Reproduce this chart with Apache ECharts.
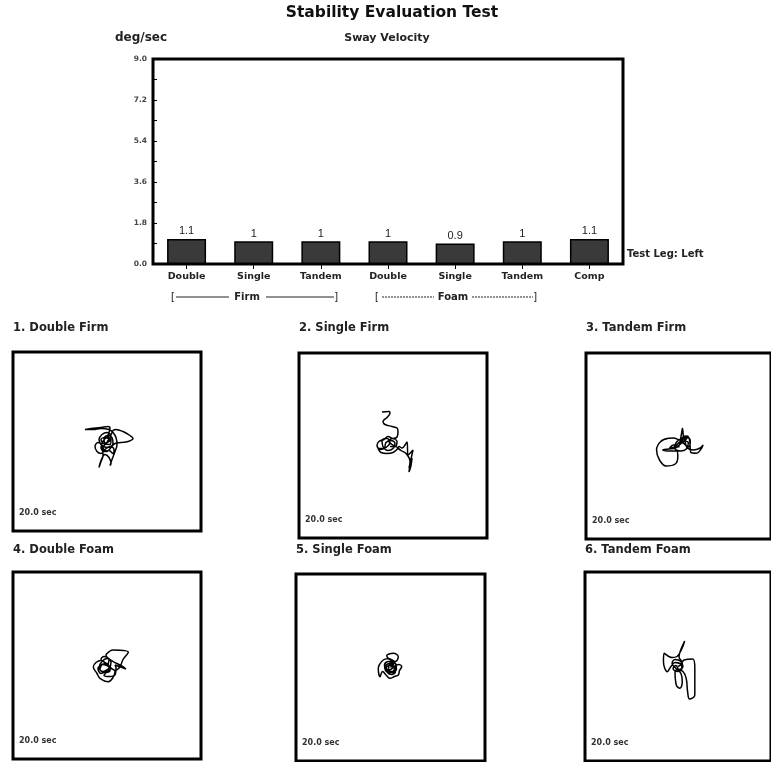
<!DOCTYPE html>
<html><head><meta charset="utf-8">
<script src="https://cdn.jsdelivr.net/npm/echarts@6/dist/echarts.min.js"></script>
<style>html,body{margin:0;padding:0;background:#fff}#chart{width:771px;height:762px}</style>
</head><body><div id="chart"></div><script>
// Sway velocity per stance (deg/sec)
const categories = ['Double', 'Single', 'Tandem', 'Double', 'Single', 'Tandem', 'Comp'];
const swayVelocity = [1.1, 1, 1, 1, 0.9, 1, 1.1];
const yTicks = [0, 1.8, 3.6, 5.4, 7.2, 9.0];

const panelTitles = ['1. Double Firm', '2. Single Firm', '3. Tandem Firm',
                     '4. Double Foam', '5. Single Foam', '6. Tandem Foam'];
const trialDuration = '20.0 sec';

// Centre-of-pressure traces, [medio-lateral, antero-posterior]
const traceDoubleFirm = [[0,0],[4,5],[0,9],[-5,7],[-8,2],[-5,-4],[1,-6],[6,-2],[5,4],[1,6],[-3,3],[-2,-2],[3,-3],[4,2],[0,4],[-4,0],[-6,-6],[-3,-10],[2,-9],[6,-12],[7,-8],[3,-5],[-2,-8],[-6,-12],[-10,-10],[-12,-5],[-9,-1],[-5,-5],[-4,-14],[-6,-20],[-8,-26],[-6,-19],[-2,-13],[2,-16],[4,-22],[3,-24],[5,-18],[8,-10],[10,-3],[9,4],[6,9],[2,12],[-6,13],[-14,12],[-22,12],[-16,13],[-6,14],[1,15],[3,14],[2,9],[0,4],[4,7],[6,11],[9,12],[16,10],[23,6],[26,3],[21,0],[14,-1],[8,-2],[4,-6],[0,-10],[-4,-6],[-1,-2],[3,1],[-2,4],[-6,2],[-3,-2],[1,0]];
const traceSingleFirm = [[-11,33.5],[-4,34],[-3,32.5],[-6,28],[-10,24],[-8,21],[-1,19],[4,17.5],[5,14],[4,8.5],[0,7],[-5,9],[-9,6],[-14,4],[-16,0],[-12,-4],[-7,-2],[-3,3],[-6,7],[-11,5],[-10,-1],[-5,-5],[0,-3],[2,2],[-2,5],[-7,3],[-9,-3],[-15,-3],[-12,-7],[-6,-8],[0,-7],[4,-4],[6,-1],[9,-2.5],[14,3.5],[15,-9.5],[20,-4.5],[16,-22.5],[19,-12.5],[18,-20],[16,-26.5],[17,-16],[13,-8],[8,-5],[3,-1],[-1,1],[-4,4],[-1,7],[4,4],[2,-1],[-3,-1]];
const traceTandemFirm = [[0,0],[5,5],[10,3],[8,-3],[2,-5],[-4,-2],[-2,4],[4,8],[9,9],[12,5],[10,-1],[6,2],[3,6],[7,10],[11,7],[12,-3],[12.7,-6.7],[18.3,-7.3],[22.7,-3.3],[25,1],[22,-2],[15,-4],[9,-2],[6.7,4.3],[5,10],[4,17.7],[3,12],[1,6],[-5,8],[-10,7.7],[-18.3,4.3],[-22.3,-4],[-19.3,-14],[-12.7,-20],[-3.3,-18],[-0.7,-10.7],[-2,-5],[-8,-5],[-16,-4],[-10,-3],[-3,-2],[2,2],[7,6],[10,10],[5,7],[0,3],[-4,-1],[-9,-2],[-5,1],[1,-1]];
const traceDoubleFoam = [[0,0],[-6,5],[-11,3],[-13.7,-1.2],[-10,-8],[-7,-12.8],[1.3,-16.2],[6,-12],[8,-6],[3,-3],[-4,-6],[-8,-2],[-5,4],[0,7],[4,3],[2,-4],[-3,-10],[3,-11],[8,-9.5],[9,-2],[8,0.5],[13,-1.2],[19,-3.5],[14,0],[6,4],[-1,10.5],[3,14.5],[6.3,15.5],[21.3,13.2],[16,6],[13,-1.2],[8,-5],[2,-1],[-4,1],[-7,-4],[-2,-7],[3,-5],[0,2],[-5,1],[-9,-3],[-6,-8],[-1,-6],[2,-2],[-2,3],[-6,6],[-3,9],[2,6],[1,1]];
const traceSingleFoam = [[0,0],[3,4],[-2,6],[-6,2],[-3,-3],[2,-5],[6,-1],[4,5],[-1,8],[-3.8,11.8],[2.8,14.2],[7.8,10.8],[5,6],[-2,9],[-7.2,7.5],[-11,3],[-12.2,-0.8],[-10.5,-9.2],[-8,-4],[-4,-8],[-0.5,-10.8],[4,-9],[7.8,-7.5],[9,-3],[11.2,0.8],[8,3],[3,0],[-2,-3],[-5,1],[-1,4],[3,2],[5,-4],[1,-7],[-3,-5],[-4,0],[0,2],[4,-1],[2,-4],[-2,-2],[-1,3],[3,5],[6,2],[4,-3],[0,-5],[-5,-3],[-6,3],[-2,6],[2,3]];
const traceTandemFoam = [[0,0],[4,4],[1,9.8],[2.7,16.5],[6.7,25.5],[4,18],[-1,10],[-6,9],[-14,13.2],[-14.7,4.8],[-10.7,-5.2],[-7.3,-0.2],[-3,4],[3,3],[6,6.5],[15,7.5],[17,-1.8],[17,-28.5],[11.7,-32.5],[9.7,-25.2],[8.3,-11.8],[5,-5],[0,-3],[-3,-5.2],[-1.7,-18.5],[2,-21.8],[4.3,-15.2],[3,-7],[-2,-2],[-6,3],[-3,7],[3,5],[5,0],[1,-3],[-2,1],[-5,-2],[-1,-5],[4,-2],[2,3],[-3,4]];

const traces = [traceDoubleFirm, traceSingleFirm, traceTandemFirm,
                traceDoubleFoam, traceSingleFoam, traceTandemFoam];

// Panel boxes (pixels); axis ranges match box size so traces keep their aspect
const boxes = [
  {left: 13,  top: 352, width: 188, height: 179, titleY: 328},
  {left: 299, top: 353, width: 188, height: 185, titleY: 328},
  {left: 586, top: 353, width: 188, height: 186, titleY: 328},
  {left: 13,  top: 572, width: 188, height: 187, titleY: 550},
  {left: 296, top: 574, width: 189, height: 187, titleY: 550},
  {left: 585, top: 572, width: 188, height: 189, titleY: 550}
];

const BOLD = '"DejaVu Sans", Verdana, sans-serif';
const PLAIN = '"Liberation Sans", Arial, sans-serif';
const chart = echarts.init(document.getElementById('chart'), null, {renderer: 'canvas'});

const grids = [{left: 153, top: 59, width: 470, height: 205, show: true,
                borderColor: '#000', borderWidth: 3, backgroundColor: '#fff'}];
const xAxes = [{
  gridIndex: 0, type: 'category', data: categories,
  axisLine: {show: false},
  axisTick: {show: true, alignWithLabel: true, length: 5, lineStyle: {color: '#000', width: 1}},
  axisLabel: {fontFamily: BOLD, fontSize: 9.5, fontWeight: 'bold', color: '#222', margin: 8}
}];
const yAxes = [{
  gridIndex: 0, type: 'value', min: yTicks[0], max: yTicks[yTicks.length - 1],
  interval: yTicks[1] - yTicks[0],
  axisLine: {show: false},
  axisTick: {show: true, inside: true, length: 4, lineStyle: {color: '#000', width: 1}},
  minorTick: {show: true, splitNumber: 2, length: 4, lineStyle: {color: '#000', width: 1}},
  splitLine: {show: false},
  axisLabel: {fontFamily: BOLD, fontSize: 7.5, fontWeight: 'bold', color: '#444', margin: 6,
              formatter: v => v.toFixed(1)}
}];
const series = [{
  type: 'bar', xAxisIndex: 0, yAxisIndex: 0, data: swayVelocity, barWidth: 39,
  itemStyle: {color: '#3a3a3a', borderColor: '#000', borderWidth: 1.5},
  label: {show: true, position: 'top', distance: 2, fontFamily: PLAIN, fontSize: 11, color: '#222'},
  silent: true
}];

const graphic = [
  {type: 'text', x: 392, y: 13, style: {text: 'Stability Evaluation Test', font: 'bold 15.5px ' + BOLD,
   fill: '#111', textAlign: 'center', textVerticalAlign: 'middle'}},
  {type: 'text', x: 141, y: 38, style: {text: 'deg/sec', font: 'bold 12px ' + BOLD, fill: '#222',
   textAlign: 'center', textVerticalAlign: 'middle'}},
  {type: 'text', x: 387, y: 38, style: {text: 'Sway Velocity', font: 'bold 11px ' + BOLD, fill: '#222',
   textAlign: 'center', textVerticalAlign: 'middle'}},
  {type: 'text', x: 627, y: 254, style: {text: 'Test Leg: Left', font: 'bold 10px ' + BOLD, fill: '#222',
   textVerticalAlign: 'middle'}},
  // Firm / Foam group brackets
  {type: 'text', x: 171, y: 297, style: {text: '[', font: '11px ' + PLAIN, fill: '#222', textVerticalAlign: 'middle'}},
  {type: 'line', shape: {x1: 176, y1: 297, x2: 229, y2: 297}, style: {stroke: '#222', lineWidth: 1}},
  {type: 'text', x: 247, y: 297, style: {text: 'Firm', font: 'bold 10px ' + BOLD, fill: '#222',
   textAlign: 'center', textVerticalAlign: 'middle'}},
  {type: 'line', shape: {x1: 266, y1: 297, x2: 334, y2: 297}, style: {stroke: '#222', lineWidth: 1}},
  {type: 'text', x: 335, y: 297, style: {text: ']', font: '11px ' + PLAIN, fill: '#222', textVerticalAlign: 'middle'}},
  {type: 'text', x: 375, y: 297, style: {text: '[', font: '11px ' + PLAIN, fill: '#222', textVerticalAlign: 'middle'}},
  {type: 'line', shape: {x1: 382, y1: 297, x2: 434, y2: 297}, style: {stroke: '#222', lineWidth: 1, lineDash: [2, 1]}},
  {type: 'text', x: 453, y: 297, style: {text: 'Foam', font: 'bold 10px ' + BOLD, fill: '#222',
   textAlign: 'center', textVerticalAlign: 'middle'}},
  {type: 'line', shape: {x1: 472, y1: 297, x2: 533, y2: 297}, style: {stroke: '#222', lineWidth: 1, lineDash: [2, 1]}},
  {type: 'text', x: 534, y: 297, style: {text: ']', font: '11px ' + PLAIN, fill: '#222', textVerticalAlign: 'middle'}}
];

boxes.forEach((b, i) => {
  const gi = i + 1;
  grids.push({left: b.left, top: b.top, width: b.width, height: b.height, show: true,
              borderColor: '#000', borderWidth: 3, backgroundColor: '#fff'});
  xAxes.push({gridIndex: gi, type: 'value', min: -b.width / 2, max: b.width / 2, show: false});
  yAxes.push({gridIndex: gi, type: 'value', min: -b.height / 2, max: b.height / 2, show: false});
  series.push({
    type: 'line', xAxisIndex: gi, yAxisIndex: gi, data: traces[i], showSymbol: false,
    smooth: 0.4, lineStyle: {color: '#000', width: 1.5}, silent: true
  });
  graphic.push({type: 'text', x: b.left, y: b.titleY,
                style: {text: panelTitles[i], font: 'bold 11.5px ' + BOLD, fill: '#222', textVerticalAlign: 'middle'}});
  graphic.push({type: 'text', x: b.left + 6, y: b.top + b.height - 18,
                style: {text: trialDuration, font: 'bold 8px ' + BOLD, fill: '#333', textVerticalAlign: 'middle'}});
});

chart.setOption({
  animation: false,
  backgroundColor: '#fff',
  grid: grids, xAxis: xAxes, yAxis: yAxes, series: series, graphic: graphic
});
</script></body></html>
